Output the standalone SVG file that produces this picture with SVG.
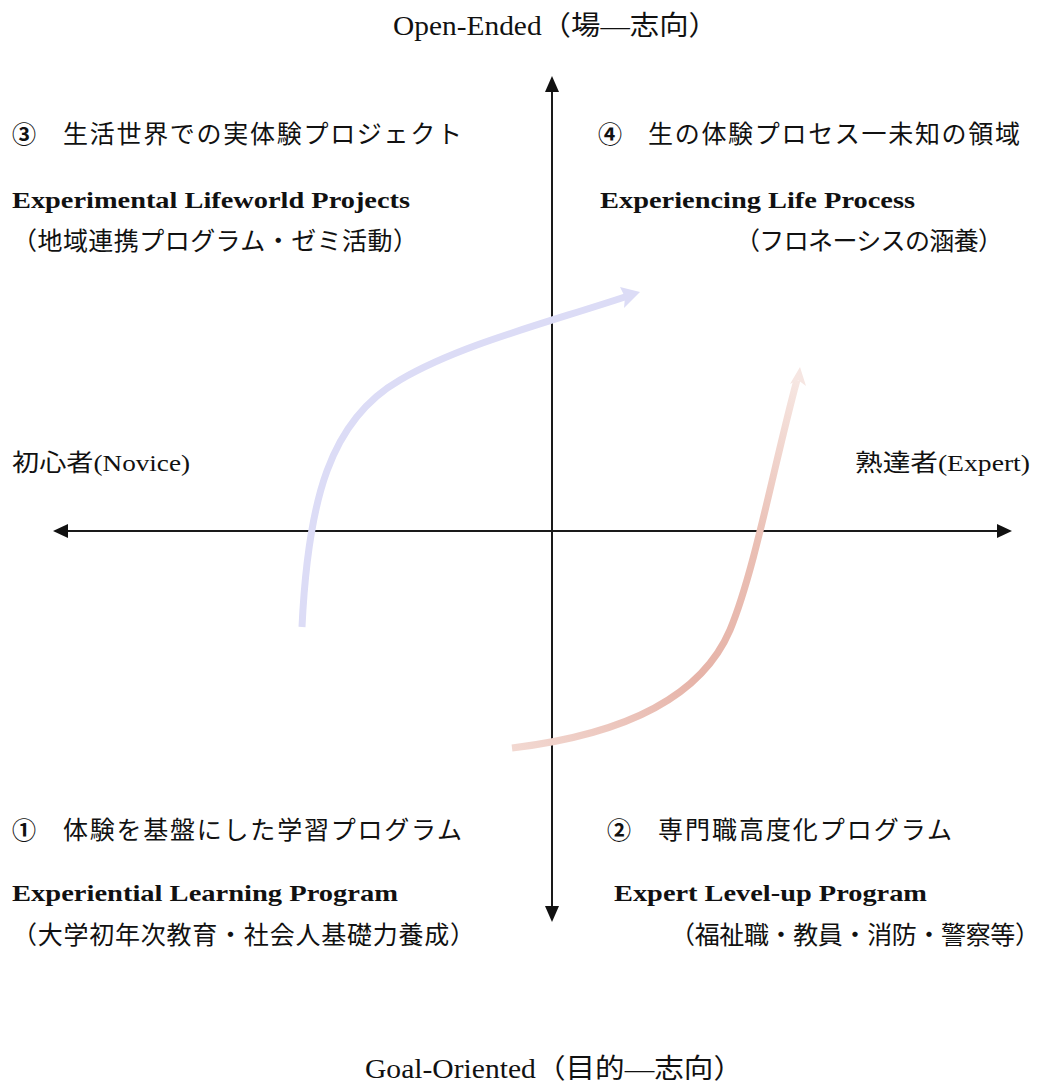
<svg xmlns="http://www.w3.org/2000/svg" width="1043" height="1084" viewBox="0 0 1043 1084">
  <style>
    .t { font-family: "Liberation Serif", "Noto Sans CJK JP", serif; fill: #111; }
    .jp { font-size: 25px; }
    .num { font-size: 24px; font-weight: bold; }
    .en { font-size: 24px; font-weight: bold; }
    .ax { font-size: 27px; }
    .lbl { font-size: 24px; }
    .axis { stroke: #1a1a1a; stroke-width: 2; fill: none; }
    .head { fill: #111; }
  </style>
  <defs>
    <linearGradient id="redGrad" gradientUnits="userSpaceOnUse" x1="512" y1="748" x2="800" y2="368">
      <stop offset="0" stop-color="#f2d8d1"/>
      <stop offset="0.35" stop-color="#e6b3a8"/>
      <stop offset="0.65" stop-color="#eabfb4"/>
      <stop offset="1" stop-color="#f7e9e5"/>
    </linearGradient>
  </defs>

  <g id="axes">
    <line class="axis" x1="66" y1="531" x2="1000" y2="531"/>
    <line class="axis" x1="552" y1="90" x2="552" y2="908"/>
    <polygon class="head" points="53,531 68,524 68,538"/>
    <polygon class="head" points="1012,531 997,524 997,538"/>
    <polygon class="head" points="552,76 545,92 559,92"/>
    <polygon class="head" points="552,922 545,906 559,906"/>
  </g>

  <g id="connectors">
    <path d="M302,627 C308,500 330,420 400,380 C460,345 540,325 628,296" fill="none" stroke="#dcdcf6" stroke-width="7" stroke-linecap="butt"/>
    <polygon points="640,292 620,287 625,297 624,308" fill="#dcdcf6"/>
    <path d="M512,748 C620,735 700,700 730,630 C755,570 775,460 797,380" fill="none" stroke="url(#redGrad)" stroke-width="7"/>
    <polygon points="800,367 790,384 798,380 806,386" fill="#f6e6e2"/>
  </g>

  <g id="title-top">
    <text class="t ax" x="393" y="35" textLength="325" lengthAdjust="spacingAndGlyphs">Open-Ended（場―志向）</text>
  </g>
  <g id="title-bottom">
    <text class="t ax" x="365" y="1078" textLength="378" lengthAdjust="spacingAndGlyphs">Goal-Oriented（目的―志向）</text>
  </g>

  <g id="label-novice">
    <text class="t lbl" x="12" y="471" textLength="178" lengthAdjust="spacingAndGlyphs">初心者(Novice)</text>
  </g>
  <g id="label-expert">
    <text class="t lbl" x="855" y="471" textLength="175" lengthAdjust="spacingAndGlyphs">熟達者(Expert)</text>
  </g>

  <g id="q3">
    <text class="t num" x="12" y="143">③</text>
    <text class="t jp" x="63" y="143" textLength="399" lengthAdjust="spacing">生活世界での実体験プロジェクト</text>
    <text class="t en" x="12" y="208" textLength="398" lengthAdjust="spacingAndGlyphs">Experimental Lifeworld Projects</text>
    <text class="t jp" x="12" y="250" textLength="406" lengthAdjust="spacing">（地域連携プログラム・ゼミ活動）</text>
  </g>

  <g id="q4">
    <text class="t num" x="598" y="143">④</text>
    <text class="t jp" x="648" y="143" textLength="372" lengthAdjust="spacing">生の体験プロセス一未知の領域</text>
    <text class="t en" x="600" y="208" textLength="315" lengthAdjust="spacingAndGlyphs">Experiencing Life Process</text>
    <text class="t jp" x="735" y="250" textLength="268" lengthAdjust="spacing">（フロネーシスの涵養）</text>
  </g>

  <g id="q1">
    <text class="t num" x="12" y="839">①</text>
    <text class="t jp" x="63" y="839" textLength="399" lengthAdjust="spacing">体験を基盤にした学習プログラム</text>
    <text class="t en" x="12" y="901" textLength="386" lengthAdjust="spacingAndGlyphs">Experiential Learning Program</text>
    <text class="t jp" x="12" y="944" textLength="463" lengthAdjust="spacing">（大学初年次教育・社会人基礎力養成）</text>
  </g>

  <g id="q2">
    <text class="t num" x="607" y="839">②</text>
    <text class="t jp" x="658" y="839" textLength="294" lengthAdjust="spacing">専門職高度化プログラム</text>
    <text class="t en" x="614" y="901" textLength="313" lengthAdjust="spacingAndGlyphs">Expert Level-up Program</text>
    <text class="t jp" x="670" y="944" textLength="370" lengthAdjust="spacing">（福祉職・教員・消防・警察等）</text>
  </g>
</svg>
